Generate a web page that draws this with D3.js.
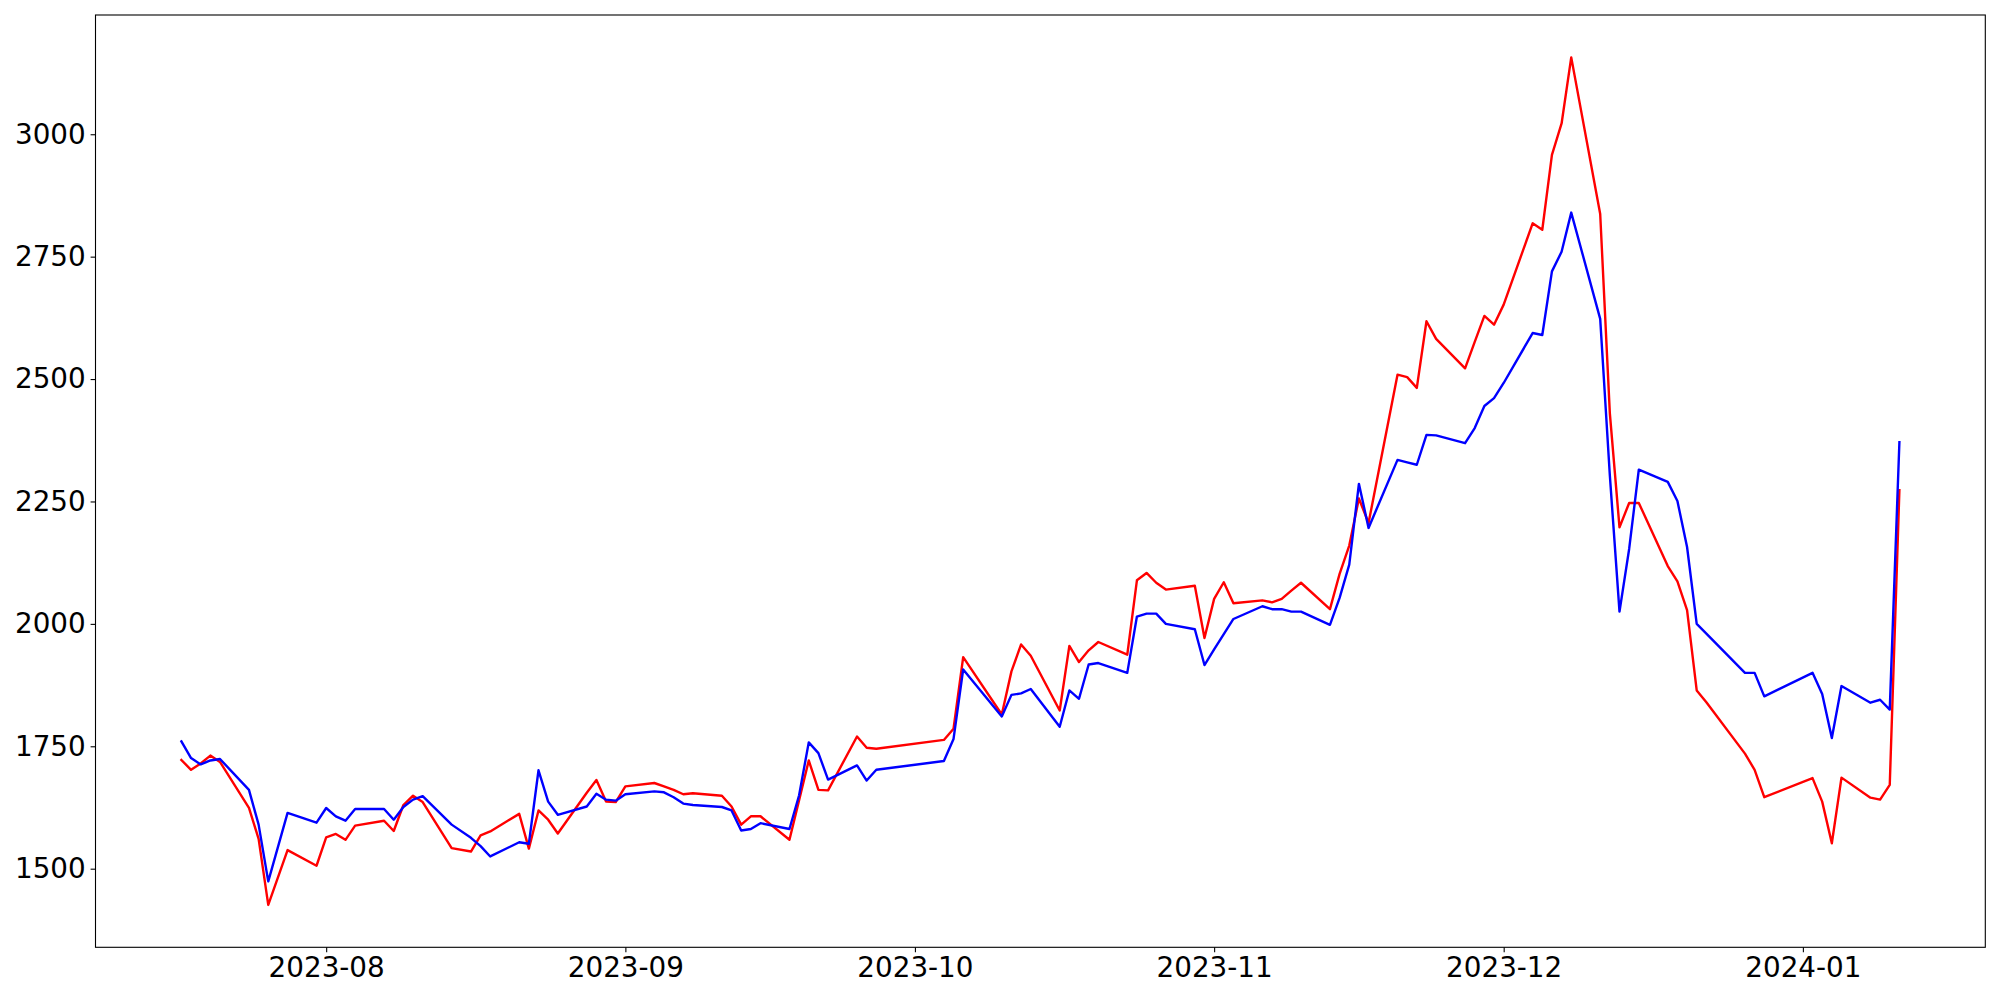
<!DOCTYPE html>
<html>
<head>
<meta charset="utf-8">
<script src="https://cdn.jsdelivr.net/npm/d3@7"></script>
<style>
  html, body { margin: 0; padding: 0; background: #fff; }
  svg { display: block; }
  .tick text { font-family: "DejaVu Sans", sans-serif; font-size: 27.8px; fill: #000; }
</style>
</head>
<body>
<svg id="chart" width="2000" height="1000"></svg>
<script>
const dates = [
  "2023-07-17","2023-07-18","2023-07-19","2023-07-20","2023-07-21","2023-07-24","2023-07-25","2023-07-26","2023-07-28","2023-07-31",
  "2023-08-01","2023-08-02","2023-08-03","2023-08-04","2023-08-07","2023-08-08","2023-08-09","2023-08-10","2023-08-11","2023-08-14",
  "2023-08-16","2023-08-17","2023-08-18","2023-08-21","2023-08-22","2023-08-23","2023-08-24","2023-08-25","2023-08-28","2023-08-29",
  "2023-08-30","2023-08-31",
  "2023-09-01","2023-09-04","2023-09-05","2023-09-06","2023-09-07","2023-09-08","2023-09-11","2023-09-12","2023-09-13","2023-09-14",
  "2023-09-15","2023-09-18","2023-09-19","2023-09-20","2023-09-21","2023-09-22","2023-09-25","2023-09-26","2023-09-27",
  "2023-10-04","2023-10-05","2023-10-06","2023-10-10","2023-10-11","2023-10-12","2023-10-13","2023-10-16","2023-10-17","2023-10-18",
  "2023-10-19","2023-10-20","2023-10-23","2023-10-24","2023-10-25","2023-10-26","2023-10-27","2023-10-30","2023-10-31",
  "2023-11-01","2023-11-02","2023-11-03","2023-11-06","2023-11-07","2023-11-08","2023-11-09","2023-11-10","2023-11-13","2023-11-14",
  "2023-11-15","2023-11-16","2023-11-17","2023-11-20","2023-11-21","2023-11-22","2023-11-23","2023-11-24","2023-11-27","2023-11-28",
  "2023-11-29","2023-11-30",
  "2023-12-01","2023-12-04","2023-12-05","2023-12-06","2023-12-07","2023-12-08","2023-12-11","2023-12-12","2023-12-13","2023-12-14",
  "2023-12-15","2023-12-18","2023-12-19","2023-12-20","2023-12-21","2023-12-22","2023-12-26","2023-12-27","2023-12-28",
  "2024-01-02","2024-01-03","2024-01-04","2024-01-05","2024-01-08","2024-01-09","2024-01-10","2024-01-11"
];

const redValues = [
  1722,1702,1715,1731,1718,1624,1561,1426,1538,1506,
  1564,1571,1559,1588,1598,1577,1630,1649,1636,1542,
  1535,1568,1576,1612,1541,1619,1600,1572,1655,1681,
  1637,1636,
  1668,1675,1668,1661,1652,1654,1649,1627,1590,1607,
  1607,1559,1640,1721,1661,1660,1770,1747,1745,
  1763,1786,1932,1815,1903,1958,1935,1823,1955,1922,
  1946,1963,1937,2089,2104,2084,2070,2078,1971,
  2051,2085,2042,2048,2044,2051,2068,2084,2030,2102,
  2160,2256,2206,2509,2504,2482,2618,2582,2522,2576,
  2629,2611,
  2652,2818,2805,2958,3022,3157,2837,2430,2197,2247,
  2247,2118,2087,2028,1864,1840,1735,1702,1646,
  1685,1637,1552,1686,1645,1641,1671,2273
];

const blueValues = [
  1760,1726,1713,1721,1724,1661,1590,1474,1614,1594,
  1624,1607,1598,1622,1622,1600,1626,1641,1648,1590,
  1563,1546,1525,1554,1551,1701,1637,1610,1627,1653,
  1641,1639,
  1652,1658,1656,1646,1633,1630,1626,1619,1578,1581,
  1593,1581,1650,1758,1736,1682,1711,1680,1702,
  1720,1765,1907,1811,1855,1858,1867,1790,1864,1847,
  1917,1920,1900,2015,2021,2021,2000,1989,1916,
  1948,1979,2010,2036,2030,2030,2025,2025,1998,2053,
  2121,2286,2196,2335,2330,2325,2386,2385,2369,2400,
  2445,2461,
  2492,2594,2590,2720,2760,2840,2623,2303,2025,2153,
  2315,2290,2251,2157,2000,1980,1900,1900,1852,
  1900,1857,1767,1873,1839,1845,1825,2371
];

const xTickLabels = ["2023-08","2023-09","2023-10","2023-11","2023-12","2024-01"];
const yTickValues = [1500, 1750, 2000, 2250, 2500, 2750, 3000];

const W = 2000, H = 1000;
const margin = { left: 95.5, top: 15, right: 14.7, bottom: 52.7 };
const innerW = W - margin.left - margin.right;
const innerH = H - margin.top - margin.bottom;

const parse = d3.utcParse("%Y-%m-%d");
const parseMonth = d3.utcParse("%Y-%m");
const xs = dates.map(parse);

const red = xs.map((d, i) => ({ date: d, value: redValues[i] }));
const blue = xs.map((d, i) => ({ date: d, value: blueValues[i] }));

const [xMin, xMax] = d3.extent(xs);
const xPad = (xMax - xMin) * 0.05;
const x = d3.scaleUtc()
  .domain([new Date(+xMin - xPad), new Date(+xMax + xPad)])
  .range([0, innerW]);

const allVals = redValues.concat(blueValues);
const [yMin, yMax] = d3.extent(allVals);
const yPad = (yMax - yMin) * 0.05;
const y = d3.scaleLinear()
  .domain([yMin - yPad, yMax + yPad])
  .range([innerH, 0]);

const svg = d3.select("#chart");
const g = svg.append("g").attr("transform", `translate(${margin.left},${margin.top})`);

const line = d3.line().x(d => x(d.date)).y(d => y(d.value));

svg.append("defs").append("clipPath").attr("id", "clip")
  .append("rect").attr("width", innerW).attr("height", innerH);

const plot = g.append("g").attr("clip-path", "url(#clip)");
plot.append("path").datum(red)
  .attr("fill", "none").attr("stroke", "#ff0000").attr("stroke-width", 2.4)
  .attr("stroke-linejoin", "round").attr("stroke-linecap", "square")
  .attr("d", line);
plot.append("path").datum(blue)
  .attr("fill", "none").attr("stroke", "#0000ff").attr("stroke-width", 2.4)
  .attr("stroke-linejoin", "round").attr("stroke-linecap", "square")
  .attr("d", line);

const xAxis = d3.axisBottom(x)
  .tickValues(xTickLabels.map(parseMonth))
  .tickFormat(d3.utcFormat("%Y-%m"))
  .tickSize(4.9).tickPadding(4.9);
const yAxis = d3.axisLeft(y)
  .tickValues(yTickValues)
  .tickFormat(d3.format("d"))
  .tickSize(4.9).tickPadding(4.9);

const gx = g.append("g").attr("transform", `translate(0,${innerH})`).call(xAxis);
const gy = g.append("g").call(yAxis);
[gx, gy].forEach(a => {
  a.select(".domain").remove();
  a.selectAll(".tick line").attr("stroke", "#000").attr("stroke-width", 1.1);
  a.attr("font-family", null).attr("font-size", null);
});

g.append("rect")
  .attr("x", 0).attr("y", 0).attr("width", innerW).attr("height", innerH)
  .attr("fill", "none").attr("stroke", "#000").attr("stroke-width", 1.1);
</script>
</body>
</html>
